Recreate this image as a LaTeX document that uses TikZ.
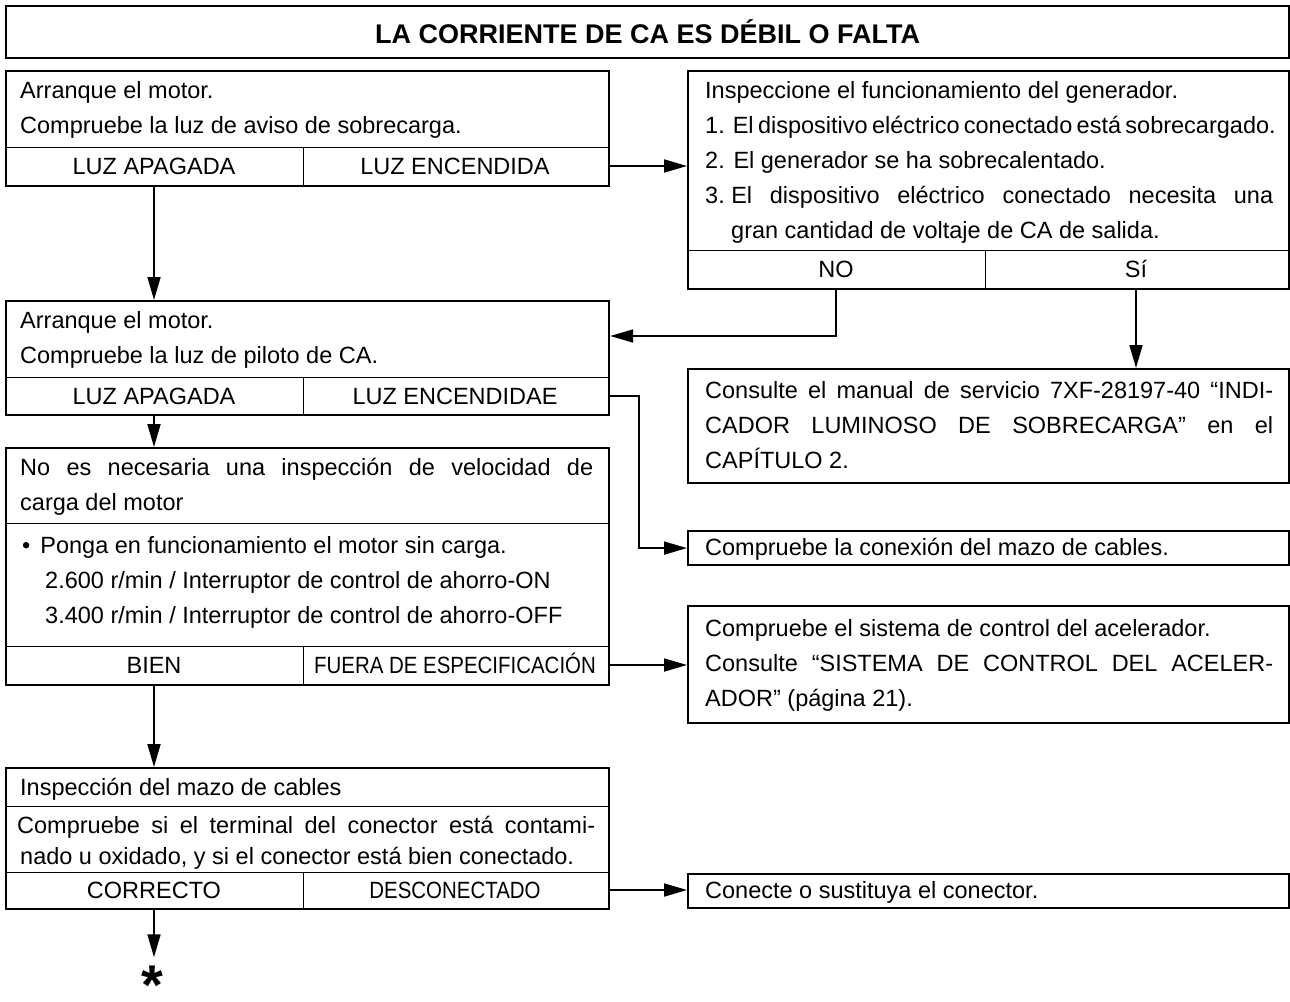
\documentclass[tikz,border=0pt]{standalone}
\usepackage{fontspec}
\usepackage{graphicx}
\setmainfont{Liberation Sans}
\usetikzlibrary{arrows.meta}

\tikzset{
  frame/.style={draw, line width=2.2pt, inner sep=0pt, anchor=north west},
  sep/.style={line width=0.8pt},
  txt/.style={anchor=west, inner sep=0pt, text height=16.8pt, text depth=0pt},
  opt/.style={inner sep=0pt, text height=16.8pt, text depth=0pt},
  flow/.style={line width=1.8pt, -{Triangle[length=23pt,width=13pt]}},
}

\begin{document}
\begin{tikzpicture}[x=1pt, y=-1pt, font=\fontsize{23.5}{28}\selectfont]
\useasboundingbox (0,0) rectangle (1290,1001);
\def\lw{573pt} % justified width, left column
\def\rw{568pt} % justified width, right column

% Title
\node[frame, minimum width=1283pt, minimum height=52pt] (title) at (5,5) {};
\node[font=\fontsize{27}{30}\selectfont\bfseries] (head) at (title.center) {LA CORRIENTE DE CA ES DÉBIL O FALTA};

% Overload warning light
\node[frame, minimum width=603pt, minimum height=115pt] (warn) at (5,70) {};
\node[txt] (w1) at (20,90) {Arranque el motor.};
\node[txt] (w2) at (20,125) {Compruebe la luz de aviso de sobrecarga.};
\draw[sep] (5,147) -- (608,147) (303,147) -- (303,185);
\node[opt] (offW) at (154,166) {LUZ APAGADA};
\node[opt] (onW) at (455,166) {LUZ ENCENDIDA};

% Generator
\node[frame, minimum width=601pt, minimum height=218pt] (gen) at (687,70) {};
\node[txt] (g1) at (705,90) {Inspeccione el funcionamiento del generador.};
\node[txt] (g2) at (705,125) {\makebox[\rw][s]{1. El dispositivo eléctrico conectado está sobrecargado.}};
\node[txt] (g3) at (705,160) {2. El generador se ha sobrecalentado.};
\node[txt] (g4) at (705,195) {\makebox[\rw][s]{3.\hspace{6.5pt}El dispositivo eléctrico conectado necesita una}};
\node[txt] (g5) at (731,230) {gran cantidad de voltaje de CA de salida.};
\draw[sep] (687,250) -- (1288,250) (985,250) -- (985,288);
\node[opt] (no) at (836,269) {NO};
\node[opt] (yes) at (1136,269) {Sí};

% AC pilot light
\node[frame, minimum width=603pt, minimum height=114pt] (pilot) at (5,300) {};
\node[txt] (p1) at (20,320) {Arranque el motor.};
\node[txt] (p2) at (20,355) {Compruebe la luz de piloto de CA.};
\draw[sep] (5,377) -- (608,377) (303,377) -- (303,414);
\node[opt] (offP) at (154,396) {LUZ APAGADA};
\node[opt] (onP) at (455,396) {LUZ ENCENDIDAE};

% Service manual
\node[frame, minimum width=601pt, minimum height=114pt] (man) at (687,368) {};
\node[txt] (m1) at (705,390) {\makebox[\rw][s]{Consulte el manual de servicio 7XF-28197-40 “INDI-}};
\node[txt] (m2) at (705,425) {\makebox[\rw][s]{CADOR LUMINOSO DE SOBRECARGA” en el}};
\node[txt] (m3) at (705,460) {CAPÍTULO 2.};

% Harness connection
\node[frame, minimum width=601pt, minimum height=34pt] (harn) at (687,530) {};
\node[txt] (h1) at (705,547) {Compruebe la conexión del mazo de cables.};

% Engine speed
\node[frame, minimum width=603pt, minimum height=237pt] (speed) at (5,447) {};
\node[txt] (s1) at (20,467) {\makebox[\lw][s]{No es necesaria una inspección de velocidad de}};
\node[txt] (s2) at (20,502) {carga del motor};
\draw[sep] (5,523) -- (608,523);
\node[txt] (s3) at (22,545) {•\hspace{10pt}Ponga en funcionamiento el motor sin carga.};
\node[txt] (s4) at (45,580) {2.600 r/min / Interruptor de control de ahorro-ON};
\node[txt] (s5) at (45,615) {3.400 r/min / Interruptor de control de ahorro-OFF};
\draw[sep] (5,646) -- (608,646) (303,646) -- (303,684);
\node[opt] (good) at (154,665) {BIEN};
\node[opt] (spec) at (455,665) {\scalebox{0.87}[1]{FUERA DE ESPECIFICACIÓN}};

% Throttle control
\node[frame, minimum width=601pt, minimum height=117pt] (thr) at (687,605) {};
\node[txt] (t1) at (705,628) {Compruebe el sistema de control del acelerador.};
\node[txt] (t2) at (705,663) {\makebox[\rw][s]{Consulte “SISTEMA DE CONTROL DEL ACELER-}};
\node[txt] (t3) at (705,698) {ADOR” (página 21).};

% Wire harness
\node[frame, minimum width=603pt, minimum height=141pt] (wire) at (5,767) {};
\node[txt] (c1) at (20,787) {Inspección del mazo de cables};
\draw[sep] (5,806) -- (608,806);
\node[txt] (c2) at (17,825) {\makebox[578pt][s]{Compruebe si el terminal del conector está contami-}};
\node[txt] (c3) at (20,856) {nado u oxidado, y si el conector está bien conectado.};
\draw[sep] (5,872) -- (608,872) (303,872) -- (303,908);
\node[opt] (right) at (154,890) {CORRECTO};
\node[opt] (loose) at (455,890) {\scalebox{0.87}[1]{DESCONECTADO}};

% Connector
\node[frame, minimum width=601pt, minimum height=34pt] (conn) at (687,873) {};
\node[txt] (k1) at (705,890) {Conecte o sustituya el conector.};

\node[inner sep=0pt, anchor=base, font=\fontsize{56}{56}\selectfont\bfseries] (star) at (152,1004) {*};

% Arrows
\draw[flow] (offW |- warn.south) -- (offW |- pilot.north);
\draw[flow] (onW -| warn.east) -- (onW -| gen.west);
\draw[flow] (no |- gen.south) |- ([yshift=-36pt]pilot.north east);
\draw[flow] (yes |- gen.south) -- (yes |- man.north);
\draw[flow] (onP -| pilot.east) -- ++(29,0) |- (harn.west);
\draw[flow] (offP |- pilot.south) -- (offP |- speed.north);
\draw[flow] (spec -| speed.east) -- (spec -| thr.west);
\draw[flow] (good |- speed.south) -- (good |- wire.north);
\draw[flow] (loose -| wire.east) -- (loose -| conn.west);
\draw[flow, shorten >=8pt] (right |- wire.south) -- (right |- star.north);
\end{tikzpicture}
\end{document}
